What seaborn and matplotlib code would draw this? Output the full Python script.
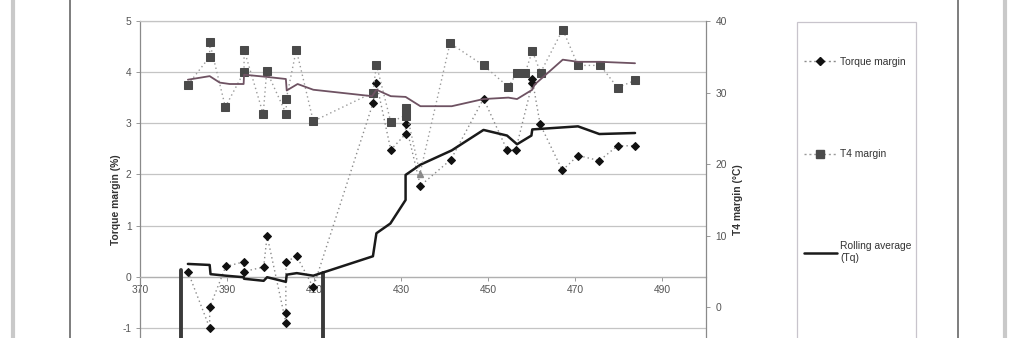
import matplotlib
matplotlib.use("Agg")
import matplotlib.pyplot as plt
from matplotlib.lines import Line2D
from matplotlib.patches import Rectangle
import seaborn as sns

# ---------------- data ----------------
tq_x = [381.0, 386.0, 386.0, 389.7, 393.8, 393.8, 398.4, 399.2, 403.5, 403.5, 403.5,
        406.0, 409.8, 423.5, 424.3, 427.6, 431.0, 431.0, 434.4, 441.4, 448.9, 454.3,
        456.3, 460.1, 460.1, 461.9, 467.0, 470.6, 475.5, 479.7, 483.7]
tq_y = [0.10, -1.00, -0.60, 0.20, 0.29, 0.10, 0.19, 0.80, -0.90, -0.70, 0.29,
        0.40, -0.21, 3.39, 3.79, 2.48, 2.79, 2.99, 1.78, 2.29, 3.48, 2.48,
        2.48, 3.78, 3.86, 2.98, 2.08, 2.37, 2.27, 2.56, 2.56]

t4_x = [381.0, 386.0, 386.0, 389.6, 393.9, 393.9, 398.3, 399.1, 403.6, 403.6, 405.9,
        409.8, 423.5, 424.3, 427.6, 431.0, 431.0, 434.3, 441.2, 448.9, 454.6, 456.6,
        458.5, 460.1, 462.0, 467.1, 470.6, 475.7, 479.7, 483.7]
t4_y = [31.1, 35.0, 37.0, 28.0, 32.9, 36.0, 27.0, 33.0, 27.0, 29.1, 36.0,
        26.0, 30.0, 33.9, 25.9, 26.8, 27.8, 18.7, 36.9, 33.8, 30.8, 32.8,
        32.8, 35.8, 32.8, 38.8, 33.8, 33.8, 30.7, 31.7]

rtq_x = [381.0, 386.0, 386.2, 389.7, 393.8, 393.9, 398.4, 399.2, 403.5, 403.7, 406.0,
         409.8, 423.5, 424.3, 427.5, 431.0, 431.0, 434.4, 441.6, 448.9, 454.3, 456.6,
         459.9, 460.1, 470.6, 475.5, 483.7]
rtq_y = [0.25, 0.23, 0.05, 0.02, -0.01, -0.04, -0.08, -0.01, -0.10, 0.04, 0.07,
         0.02, 0.40, 0.85, 1.04, 1.50, 1.99, 2.19, 2.47, 2.87, 2.76, 2.59,
         2.76, 2.88, 2.94, 2.79, 2.81]

rt4_x = [381.0, 386.0, 388.3, 390.6, 393.8, 393.9, 399.0, 403.5, 403.7, 406.2, 409.8,
         423.3, 424.3, 427.6, 431.0, 434.4, 441.6, 448.9, 454.6, 456.6, 460.1, 460.6,
         467.1, 470.6, 475.7, 483.7]
rt4_y = [31.8, 32.3, 31.4, 31.2, 31.2, 32.5, 32.2, 31.9, 30.3, 31.2, 30.4,
         29.5, 30.4, 29.5, 29.4, 28.1, 28.1, 29.1, 29.3, 29.1, 30.4, 31.1,
         34.6, 34.3, 34.3, 34.1]

window_x = [379.5, 412.1]
window_top = [0.14, 0.08]
window_bottom = [-2.0, -2.0]

x_ticks = [370, 390, 410, 430, 450, 470, 490]
tq_ticks = [-1, 0, 1, 2, 3, 4, 5]
t4_ticks = [0, 10, 20, 30, 40]
legend_labels = ["Torque margin", "T4 margin", "Rolling average\n(Tq)", "Rolling average\n(T4)"]

# ---------------- style ----------------
sns.set_style("white")
plt.rcParams["font.family"] = ["Liberation Sans", "DejaVu Sans"]
FS = 7.4
TICKC = "#555555"
GRIDC = "#c4c4c4"

W, H = 1016, 338
fig = plt.figure(figsize=(W / 100, H / 100), dpi=100)
fig.patch.set_facecolor("white")

ax = fig.add_axes([140 / W, (H - 379) / H, (706 - 140) / W, (379 - 21) / H])
ax2 = ax.twinx()

# window markers
for i in range(len(window_x)):
    sns.lineplot(x=[window_x[i], window_x[i]], y=[window_top[i], window_bottom[i]], ax=ax,
                 color="#3a3a3a", linewidth=2.8, estimator=None, sort=False, zorder=3)

# torque margin
sns.lineplot(x=tq_x, y=tq_y, ax=ax, sort=False, estimator=None, color="#8a8a8a",
             linestyle=(0, (1, 2.2)), linewidth=1.0, marker="D", markersize=3.6,
             markerfacecolor="#111111", markeredgecolor="#111111", zorder=4)

# rolling average torque
sns.lineplot(x=rtq_x, y=rtq_y, ax=ax, sort=False, estimator=None, color="#1a1a1a",
             linewidth=1.8, zorder=5)

# T4 margin (secondary axis)
tri_idx = 17
sq_idx = [i for i in range(len(t4_x)) if i != tri_idx]
sns.lineplot(x=t4_x, y=t4_y, ax=ax2, sort=False, estimator=None, color="#9a9a9a",
             linestyle=(0, (1, 2.2)), linewidth=1.0, marker="s", markersize=5.2,
             markevery=sq_idx, markerfacecolor="#4a4a4a", markeredgecolor="#4a4a4a", zorder=4)
ax2.plot([t4_x[tri_idx]], [t4_y[tri_idx]], marker="^", markersize=4.5, color="#8a8a8a",
         linestyle="none", zorder=4)

# rolling average T4
sns.lineplot(x=rt4_x, y=rt4_y, ax=ax2, sort=False, estimator=None, color="#6e5262",
             linewidth=1.3, zorder=5)

# ---------------- axes ----------------
ax.set_xlim(370, 500)
ax.set_ylim(-2, 5)
ax2.set_ylim(-10, 40)
ax.set_xticks(x_ticks)
ax.set_xticklabels([str(v) for v in x_ticks])
ax.set_yticks(tq_ticks)
ax.set_yticklabels([str(v) for v in tq_ticks])
ax2.set_yticks(t4_ticks)
ax2.set_yticklabels([str(v) for v in t4_ticks])

ax.yaxis.grid(True, color=GRIDC, linewidth=0.9)
ax.xaxis.grid(False)
ax2.grid(False)
ax.set_axisbelow(True)

ax.spines["bottom"].set_position(("data", 0))
ax.spines["bottom"].set_color("#b0b0b0")
ax.spines["bottom"].set_linewidth(0.9)
ax.spines["top"].set_color(GRIDC)
ax.spines["top"].set_linewidth(0.9)
ax.spines["left"].set_color("#8a8a8a")
ax.spines["left"].set_linewidth(0.9)
ax.spines["right"].set_visible(False)
for s in ["top", "bottom", "left"]:
    ax2.spines[s].set_visible(False)
ax2.spines["right"].set_color("#8a8a8a")
ax2.spines["right"].set_linewidth(0.9)

ax.tick_params(axis="x", direction="out", length=3, width=0.7, color="#999999",
               labelsize=FS, labelcolor=TICKC, pad=3, bottom=True)
ax.tick_params(axis="y", direction="out", length=3, width=0.7, color="#999999",
               labelsize=FS, labelcolor=TICKC, pad=3, left=True)
ax2.tick_params(axis="y", direction="out", length=3, width=0.7, color="#999999",
                labelsize=FS, labelcolor=TICKC, pad=4, right=True)

ax.set_xlabel("")
ax.set_ylabel("Torque margin (%)", fontsize=FS, fontweight="bold", color="#333333", labelpad=1)
ax2.set_ylabel("T4 margin (°C)", fontsize=FS, fontweight="bold", color="#333333", labelpad=4)

# ---------------- legend ----------------
handles = [
    Line2D([], [], color="#8a8a8a", linestyle=(0, (1.5, 2)), linewidth=1.0, marker="D",
           markersize=3.6, markerfacecolor="#111111", markeredgecolor="#111111"),
    Line2D([], [], color="#9a9a9a", linestyle=(0, (1.5, 2)), linewidth=1.0, marker="s",
           markersize=5.2, markerfacecolor="#4a4a4a", markeredgecolor="#4a4a4a"),
    Line2D([], [], color="#1a1a1a", linewidth=1.8),
    Line2D([], [], color="#6e5262", linewidth=1.3),
]
leg = fig.legend(handles, legend_labels, loc="upper left",
                 bbox_to_anchor=(804 / W, 1 - 57 / H), frameon=False,
                 fontsize=FS, labelspacing=8.0, borderpad=0.0, handlelength=3.2,
                 handletextpad=0.3, borderaxespad=0, numpoints=1)
for t in leg.get_texts():
    t.set_color("#333333")
fig.add_artist(Rectangle((797 / W, -0.3), (916 - 797) / W, 0.3 + 1 - 22 / H,
                         transform=fig.transFigure, fill=False, edgecolor="#c8c4cc",
                         linewidth=0.9))

# ---------------- page edges ----------------
def vline(xpix, color, lw):
    fig.add_artist(Line2D([xpix / W, xpix / W], [0, 1], transform=fig.transFigure,
                          color=color, linewidth=lw))

vline(13, "#c9c9c9", 3.0)
vline(70, "#5a5a5a", 1.1)
vline(958, "#5a5a5a", 1.1)
vline(1005, "#c9c9c9", 3.0)

fig.savefig("out.png", dpi=100, facecolor="white")
